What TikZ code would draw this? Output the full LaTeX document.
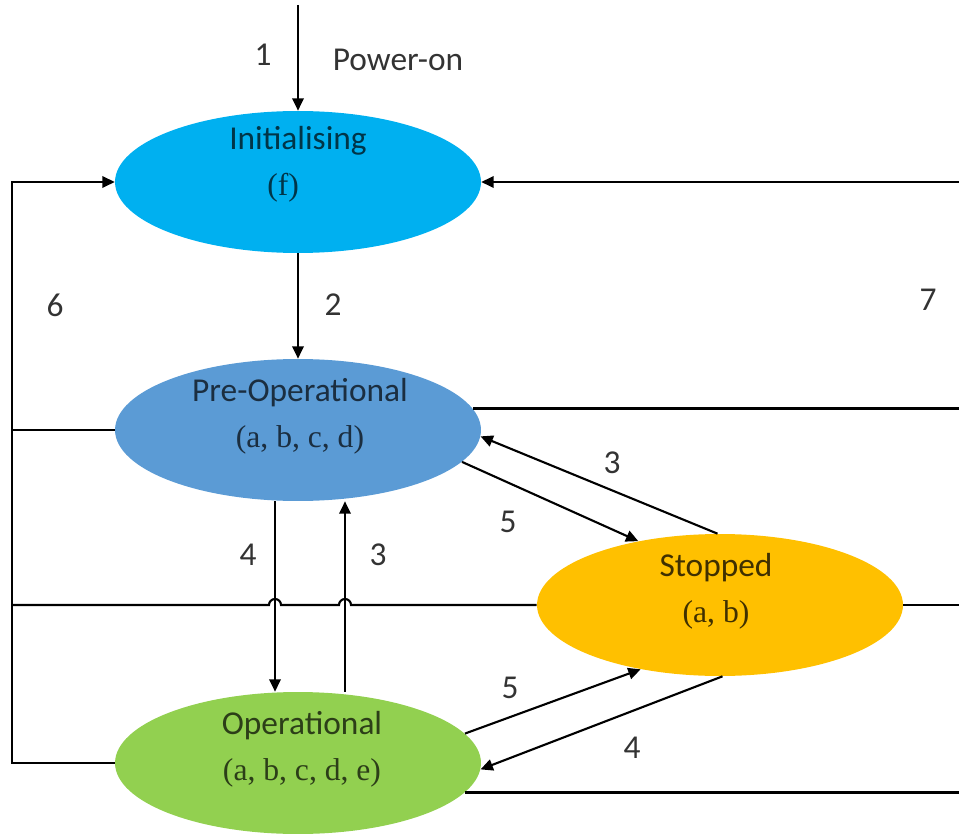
\documentclass[tikz,border=0pt]{standalone}
\usepackage{fontspec}
\setmainfont{Carlito}
\newfontfamily\argfont{Liberation Serif}
\usetikzlibrary{arrows.meta,calc,positioning,shapes.geometric}

\definecolor{initblue}{HTML}{00B0F0}
\definecolor{preblue}{HTML}{5B9BD5}
\definecolor{stopgold}{HTML}{FFC000}
\definecolor{opgreen}{HTML}{92D050}

\tikzset{
  state/.style={ellipse, draw=none, minimum width=7.32cm, minimum height=2.84cm, inner sep=0pt},
  statetext/.style={align=center, inner sep=0pt, font=\fontsize{19}{26}\selectfont},
  arr/.style={line width=1.2pt, -{Triangle[length=7pt,width=6.5pt]}},
  wire/.style={line width=1.2pt},
  lbl/.style={text=black!80, font=\fontsize{19}{23}\selectfont, inner sep=0pt}
}

\begin{document}
\begin{tikzpicture}[x=0.02cm, y=-0.02cm]
  \useasboundingbox (0,0) rectangle (959,834);
  % States
  \node[state, fill=initblue] (ini) at (298,182) {};
  \node[state, fill=preblue] (preop) at (298,430) {};
  \node[state, fill=stopgold] (stopped) at (720,605) {};
  \node[state, fill=opgreen] (oper) at (298,763) {};
  % State texts
  \node[statetext, text=black!70!initblue] (initxt) at ($(ini.center)+(0,-18)$) {Initialising\\{\argfont\fontsize{18}{26}\selectfont (f)}\hspace*{17pt}};
  \node[statetext, text=black!70!preblue] (pretxt) at ($(preop.center)+(2,-14)$) {Pre-Operational\\{\argfont\fontsize{18}{26}\selectfont (a, b, c, d)}};
  \node[statetext, text=black!75!stopgold] (stoptxt) at ($(stopped.center)+(-4,-14)$) {Stopped\\{\argfont\fontsize{18}{26}\selectfont (a, b)}};
  \node[statetext, text=black!70!opgreen] (optxt) at ($(oper.center)+(4,-14)$) {Operational\\{\argfont\fontsize{18}{26}\selectfont (a, b, c, d, e)}};
  % Power-on
  \coordinate (pwr) at (298,5);
  \draw[arr] (pwr) -- (ini);
  \node[lbl] (l1) at (263,55) {1};
  \node[lbl] (lpwr) at (398,60) {Power-on};
  % Initialising to Pre-Operational
  \draw[arr] (ini) -- (preop);
  \node[lbl] (l2) at (333,305) {2};
  % Left loop back to Initialising
  \coordinate (ltop) at (12,182);
  \coordinate (lmid) at (12,605);
  \draw[arr] (oper.west) -- (oper.west -| ltop) -- (ltop) -- (ini.west);
  \draw[wire] (preop.west) -- (preop.west -| ltop);
  \draw[wire] (lmid) -- (269,605) arc[start angle=180, end angle=0, radius=0.12cm]
    -- (339,605) arc[start angle=180, end angle=0, radius=0.12cm] -- (stopped.west);
  \node[lbl] (l6) at (55,305) {6};
  % Right loop back to Initialising
  \coordinate (rtop) at (968,182);
  \draw[arr] (oper.-10) -- (oper.-10 -| rtop) -- (rtop) -- (ini.east);
  \draw[wire] (preop.7) -- (preop.7 -| rtop);
  \draw[wire] (stopped.east) -- (stopped.east -| rtop);
  \node[lbl] (l7) at (928,300) {7};
  % Pre-Operational and Operational
  \draw[arr] ([xshift=-0.46cm]preop.south) -- ([xshift=-0.46cm]oper.north);
  \draw[arr] ([xshift=0.94cm]oper.north) -- ([xshift=0.94cm]preop.south);
  \node[lbl] (l4a) at (248,555) {4};
  \node[lbl] (l3a) at (378,555) {3};
  % Stopped transitions
  \draw[arr] (preop.-11) -- (stopped.142);
  \draw[arr] (stopped.92) -- (preop.-2);
  \draw[arr] (oper.10) -- (stopped.-141);
  \draw[arr] (stopped.-88) -- (oper.-2);
  \node[lbl] (l5a) at (508,522) {5};
  \node[lbl] (l3b) at (612,463) {3};
  \node[lbl] (l5b) at (510,688) {5};
  \node[lbl] (l4b) at (632,748) {4};
\end{tikzpicture}
\end{document}
